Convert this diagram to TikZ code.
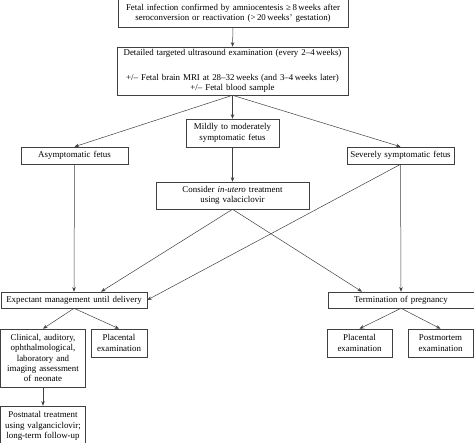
\documentclass[tikz,border=0pt]{standalone}
\usepackage{fontspec}
\setmainfont{Liberation Serif}
\usetikzlibrary{arrows.meta}
\tikzset{
    flowbox/.style={draw=black!75, line width=0.6pt, align=center, inner xsep=0.5pt, inner ysep=1pt,
        font=\fontsize{8.9}{10.3}\selectfont},
    flowarrow/.style={draw=black!75, line width=0.5pt, -{Stealth[length=4.5pt,width=3.5pt]}}
}
\begin{document}
\begin{tikzpicture}[x=1pt,y=-1pt]
        \clip (0,0) rectangle (474,443);

        \node[flowbox, text width=229pt, minimum height=28pt] (infect) at (233,13) {Fetal infection confirmed by amniocentesis ≥\,8\,weeks after\\ seroconversion or reactivation (>\,20\,weeks’ gestation)};
        \node[flowbox, text width=230pt, minimum height=48pt] (detail) at (232.5,71) {Detailed targeted ultrasound examination (every 2–4\,weeks)\\[15pt] +/– Fetal brain MRI at 28–32\,weeks (and 3–4\,weeks later)\\ +/– Fetal blood sample};
        \node[flowbox, text width=92pt, minimum height=28pt] (mild) at (232.5,133) {Mildly to moderately\\ symptomatic fetus};
        \node[flowbox, text width=106pt, minimum height=17pt] (asym) at (74.5,155.5) {Asymptomatic fetus};
        \node[flowbox, text width=106pt, minimum height=17pt] (severe) at (400.5,155.5) {Severely symptomatic fetus};
        \node[flowbox, text width=152pt, minimum height=27pt] (consider) at (232.5,195.5) {Consider \textit{in-utero} treatment\\ using valaciclovir};
        \node[flowbox, text width=145pt, minimum height=16pt] (expect) at (74,300) {Expectant management until delivery};
        \node[flowbox, text width=145pt, minimum height=16pt] (term) at (401,300) {Termination of pregnancy};
        \node[flowbox, text width=84pt, minimum height=58pt] (clin) at (43,358) {Clinical, auditory,\\ ophthalmological,\\ laboratory and\\ imaging assessment\\ of neonate};
        \node[flowbox, text width=55pt, minimum height=28pt] (placA) at (119,343) {Placental\\ examination};
        \node[flowbox, text width=64pt, minimum height=28pt] (placB) at (359.5,343) {Placental\\ examination};
        \node[flowbox, text width=64pt, minimum height=28pt] (postm) at (440.5,343) {Postmortem\\ examination};
        \node[flowbox, text width=84pt, minimum height=40pt] (postn) at (43,426) {Postnatal treatment\\ using valganciclovir;\\ long-term follow-up};

        \foreach \from/\to in {infect/detail, detail/asym, detail/mild, detail/severe, mild/consider, asym/expect, severe/term, expect/clin, expect/placA, term/placB, term/postm, clin/postn}
            \draw[flowarrow] (\from.south) -- (\to.north);

        \draw[flowarrow] (consider.south) -- ([xshift=27pt]expect.north);
        \draw[flowarrow] (consider.south) -- ([xshift=-39pt]term.north);
        \draw[flowarrow] (severe.south) -- (expect.east);
    \end{tikzpicture}
\end{document}
